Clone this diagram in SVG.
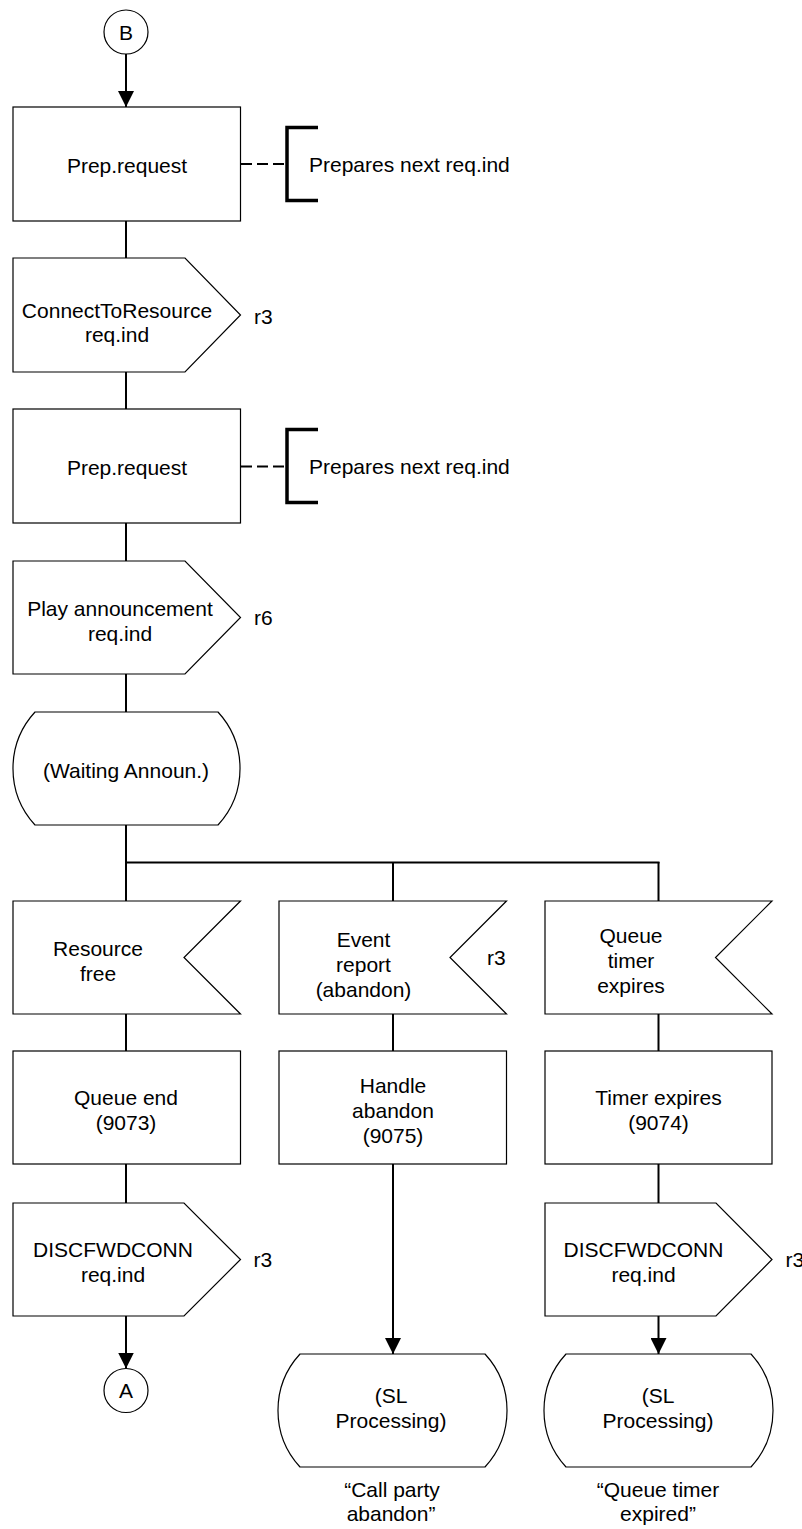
<svg xmlns="http://www.w3.org/2000/svg" width="802" height="1529" viewBox="0 0 802 1529">
<style>
.shape{fill:#fff;stroke:#000;stroke-width:1.2}
.conn{fill:none;stroke:#000;stroke-width:2}
.dash{fill:none;stroke:#000;stroke-width:2;stroke-dasharray:11 5}
.brk{fill:none;stroke:#000;stroke-width:3.5}
text{font-family:"Liberation Sans",Arial,sans-serif;font-size:21px;fill:#000}
.c{text-anchor:middle}
</style>
<defs>
<marker id="ah" markerUnits="userSpaceOnUse" markerWidth="18" markerHeight="16" refX="16" refY="8" orient="auto">
<path d="M0,0 L16,8 L0,16 Z" fill="#000"/>
</marker>
</defs>
<rect width="802" height="1529" fill="#fff"/>

<g id="connectors">
<line class="conn" x1="126" y1="54" x2="126" y2="107" marker-end="url(#ah)"/>
<line class="conn" x1="126" y1="221" x2="126" y2="258"/>
<line class="conn" x1="126" y1="372" x2="126" y2="409"/>
<line class="conn" x1="126" y1="523" x2="126" y2="561"/>
<line class="conn" x1="126" y1="674" x2="126" y2="712"/>
<line class="conn" x1="126" y1="825" x2="126" y2="901"/>
<line class="conn" x1="125" y1="862.5" x2="659.5" y2="862.5"/>
<line class="conn" x1="393" y1="862" x2="393" y2="901"/>
<line class="conn" x1="658.5" y1="862" x2="658.5" y2="901"/>
<line class="conn" x1="126" y1="1014" x2="126" y2="1051"/>
<line class="conn" x1="393" y1="1014" x2="393" y2="1051"/>
<line class="conn" x1="658.5" y1="1014" x2="658.5" y2="1051"/>
<line class="conn" x1="126" y1="1164" x2="126" y2="1203"/>
<line class="conn" x1="658.5" y1="1164" x2="658.5" y2="1203"/>
<line class="conn" x1="126" y1="1316" x2="126" y2="1368.5" marker-end="url(#ah)"/>
<line class="conn" x1="393" y1="1164" x2="393" y2="1354" marker-end="url(#ah)"/>
<line class="conn" x1="658.5" y1="1316" x2="658.5" y2="1354" marker-end="url(#ah)"/>
<line class="dash" x1="241" y1="164" x2="286" y2="164"/>
<line class="dash" x1="241" y1="466.5" x2="286" y2="466.5"/>
</g>

<g id="connB">
<circle class="shape" cx="126" cy="32" r="22"/>
<text class="c" x="126" y="40">B</text>
</g>

<g id="prep1">
<rect class="shape" x="13" y="107" width="227.5" height="114"/>
<text class="c" x="127" y="173">Prep.request</text>
</g>
<g id="note1">
<path class="brk" d="M318,127.5 H287 V200.5 H318"/>
<text x="309" y="172">Prepares next req.ind</text>
</g>

<g id="out1">
<polygon class="shape" points="13,258 185,258 240.5,315 185,372 13,372"/>
<text class="c" x="117" y="318">ConnectToResource</text>
<text class="c" x="117" y="342">req.ind</text>
<text x="254" y="324">r3</text>
</g>

<g id="prep2">
<rect class="shape" x="13" y="409" width="227.5" height="114"/>
<text class="c" x="127" y="475">Prep.request</text>
</g>
<g id="note2">
<path class="brk" d="M318,429.5 H287 V502.5 H318"/>
<text x="309" y="473.5">Prepares next req.ind</text>
</g>

<g id="out2">
<polygon class="shape" points="13,561 185,561 240.5,617.5 185,674 13,674"/>
<text class="c" x="120" y="616">Play announcement</text>
<text class="c" x="120" y="641">req.ind</text>
<text x="254" y="625">r6</text>
</g>

<g id="waiting">
<path class="shape" d="M35,712 H218 A83.5,83.5 0 0 1 218,825 H35 A83.5,83.5 0 0 1 35,712 Z"/>
<text class="c" x="126" y="778">(Waiting Announ.)</text>
</g>

<g id="in1">
<polygon class="shape" points="13,901 240.5,901 184,957.5 240.5,1014 13,1014"/>
<text class="c" x="98" y="956">Resource</text>
<text class="c" x="98" y="981">free</text>
</g>

<g id="in2">
<polygon class="shape" points="279,901 506.5,901 450,957.5 506.5,1014 279,1014"/>
<text class="c" x="363.5" y="947">Event</text>
<text class="c" x="363.5" y="972">report</text>
<text class="c" x="363.5" y="997">(abandon)</text>
<text x="487" y="965">r3</text>
</g>

<g id="in3">
<polygon class="shape" points="545,901 772,901 715.5,957.5 772,1014 545,1014"/>
<text class="c" x="631" y="943">Queue</text>
<text class="c" x="631" y="968">timer</text>
<text class="c" x="631" y="993">expires</text>
</g>

<g id="task1">
<rect class="shape" x="13" y="1051" width="227.5" height="113"/>
<text class="c" x="126" y="1105">Queue end</text>
<text class="c" x="126" y="1130">(9073)</text>
</g>

<g id="task2">
<rect class="shape" x="279" y="1051" width="227.5" height="113"/>
<text class="c" x="393" y="1093">Handle</text>
<text class="c" x="393" y="1118">abandon</text>
<text class="c" x="393" y="1143">(9075)</text>
</g>

<g id="task3">
<rect class="shape" x="545" y="1051" width="227" height="113"/>
<text class="c" x="658.5" y="1105">Timer expires</text>
<text class="c" x="658.5" y="1130">(9074)</text>
</g>

<g id="out3">
<polygon class="shape" points="13,1203 184,1203 240.5,1259.5 184,1316 13,1316"/>
<text class="c" x="113" y="1257">DISCFWDCONN</text>
<text class="c" x="113" y="1282">req.ind</text>
<text x="253.5" y="1267">r3</text>
</g>

<g id="out4">
<polygon class="shape" points="545,1203 716,1203 772,1259.5 716,1316 545,1316"/>
<text class="c" x="643.5" y="1257">DISCFWDCONN</text>
<text class="c" x="643.5" y="1282">req.ind</text>
<text x="785.5" y="1267">r3</text>
</g>

<g id="connA">
<circle class="shape" cx="126" cy="1390.5" r="22"/>
<text class="c" x="126" y="1398">A</text>
</g>

<g id="sl1">
<path class="shape" d="M300,1354 H485 A83.5,83.5 0 0 1 485,1467 H300 A83.5,83.5 0 0 1 300,1354 Z"/>
<text class="c" x="391" y="1403">(SL</text>
<text class="c" x="391" y="1428">Processing)</text>
</g>
<g id="cap1">
<text class="c" x="392" y="1497">“Call party</text>
<text class="c" x="391" y="1521">abandon”</text>
</g>

<g id="sl2">
<path class="shape" d="M566,1354 H751 A83.5,83.5 0 0 1 751,1467 H566 A83.5,83.5 0 0 1 566,1354 Z"/>
<text class="c" x="658" y="1403">(SL</text>
<text class="c" x="658" y="1428">Processing)</text>
</g>
<g id="cap2">
<text class="c" x="658" y="1497">“Queue timer</text>
<text class="c" x="658" y="1521">expired”</text>
</g>
</svg>
